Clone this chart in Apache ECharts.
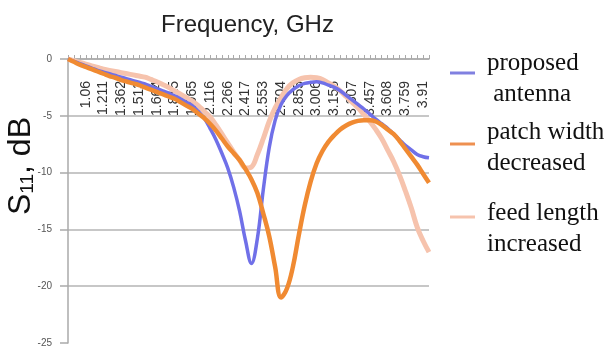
<!DOCTYPE html>
<html>
<head>
<meta charset="utf-8">
<script src="https://cdn.jsdelivr.net/npm/echarts@6/dist/echarts.min.js"></script>
<style>
  html, body { margin: 0; padding: 0; background: #fff; }
  #chart { width: 611px; height: 353px; }
</style>
</head>
<body>
<div id="chart"></div>
<script>
  // tick labels on the frequency axis (GHz)
  const freqLabels = ['1.06', '1.211', '1.362', '1.513', '1.664', '1.815', '1.965', '2.116', '2.266', '2.417',
    '2.553', '2.704', '2.855', '3.006', '3.156', '3.307', '3.457', '3.608', '3.759', '3.91']

  // S11 (dB), 3 samples per labelled step
  const proposed = [0, -0.2, -0.4, -0.6, -0.8, -1.0, -1.15, -1.3, -1.45, -1.6,
    -1.75, -1.9, -2.05, -2.2, -2.4, -2.6, -2.8, -3.0, -3.25, -3.5,
    -3.8, -4.1, -4.6, -5.2, -6.1, -7.1, -8.3, -9.6, -11.3, -13.4,
    -16.0, -18.0, -15.8, -11.5, -7.8, -5.4, -4.0, -3.2, -2.7, -2.35,
    -2.15, -2.05, -2.0, -2.1, -2.3, -2.5, -2.8, -3.2, -3.6, -4.0,
    -4.4, -4.85, -5.3, -5.7, -6.1, -6.6, -7.1, -7.6, -8.0, -8.4,
    -8.6, -8.7]
  const patchWidth = [0, -0.25, -0.5, -0.7, -0.9, -1.1, -1.3, -1.5, -1.65, -1.85,
    -2.0, -2.15, -2.3, -2.5, -2.7, -2.9, -3.1, -3.3, -3.5, -3.8,
    -4.1, -4.4, -4.8, -5.2, -5.7, -6.3, -7.0, -7.7, -8.3, -8.9,
    -9.7, -10.6, -11.8, -13.6, -15.6, -18.3, -21.0, -20.2, -18.3, -15.5,
    -12.9, -10.8, -9.2, -8.1, -7.3, -6.7, -6.2, -5.85, -5.6, -5.45,
    -5.4, -5.4, -5.5, -5.8, -6.2, -6.6, -7.2, -7.9, -8.6, -9.3,
    -10.1, -10.9]
  const feedLength = [0, -0.15, -0.3, -0.45, -0.6, -0.75, -0.9, -1.0, -1.1, -1.2,
    -1.3, -1.4, -1.5, -1.6, -1.8, -2.0, -2.25, -2.5, -2.8, -3.1,
    -3.4, -3.7, -4.1, -4.6, -5.1, -5.8, -6.6, -7.4, -8.2, -8.9,
    -9.6, -9.5, -8.4, -7.0, -5.5, -4.3, -3.4, -2.6, -2.1, -1.8,
    -1.65, -1.6, -1.65, -1.8, -2.1, -2.4, -2.8, -3.3, -3.8, -4.3,
    -4.9, -5.5, -6.2, -7.0, -8.0, -9.0, -10.2, -11.6, -13.1, -14.8,
    -16.0, -17.0]

  const yTicks = [0, -5, -10, -15, -20, -25]

  // categories: labelled frequencies with two sub-steps between them
  const categories = proposed.map((v, i) => {
    const k = (i - 3) / 3
    if (Number.isInteger(k) && k >= 0 && k < freqLabels.length) return freqLabels[k]
    return (1.06 + (i - 3) * 0.0503).toFixed(4)
  })

  const names = ['proposed\n antenna', 'patch width\ndecreased', 'feed length\nincreased']

  // one legend per entry so each can sit where the original does
  const legendBase = (name, top, spacer) => ({
    data: [name],
    left: 450,
    top: top,
    padding: 0,
    itemWidth: 25,
    itemHeight: 3,
    icon: 'rect',
    selectedMode: false,
    formatter: (n) => '{s| }\n' + n.split('\n').map(t => '{a|' + t + '}').join('\n'),
    textStyle: {
      padding: [0, 0, 0, 7],
      rich: {
        s: { fontSize: 2, lineHeight: spacer },
        a: {
          fontFamily: "'Liberation Serif', 'Times New Roman', serif",
          fontSize: 25,
          lineHeight: 31,
          color: '#111'
        }
      }
    }
  })

  const option = {
    backgroundColor: '#fff',
    animation: false,
    title: {
      text: 'Frequency, GHz',
      left: 156,
      top: 8,
      textStyle: {
        fontFamily: "'Liberation Sans', Arial, sans-serif",
        fontSize: 24,
        fontWeight: 'normal',
        color: '#222'
      }
    },
    legend: [
      legendBase(names[0], 41, 11),
      legendBase(names[1], 112, 7),
      legendBase(names[2], 185, 23)
    ],
    grid: { left: 68, top: 59, right: 182, bottom: 10, outerBoundsMode: 'none' },
    xAxis: {
      type: 'category',
      position: 'top',
      data: categories,
      boundaryGap: false,
      axisLine: { lineStyle: { color: '#aaa', width: 1.5 } },
      axisTick: { interval: 0, length: 4, lineStyle: { color: '#aaa' } },
      axisLabel: {
        inside: true,
        interval: (i) => i % 3 === 0 && i >= 3 && i <= 60,
        rotate: 90,
        margin: 22,
        fontSize: 14,
        fontFamily: "'Liberation Sans', Arial, sans-serif",
        color: '#333'
      }
    },
    yAxis: {
      type: 'value',
      min: yTicks[yTicks.length - 1],
      max: yTicks[0],
      interval: 5,
      name: '{a|S}{b|11}{a|, dB}',
      nameLocation: 'middle',
      nameRotate: 90,
      nameGap: 31,
      nameMoveOverlap: false,
      nameTextStyle: {
        padding: [0, 0, 0, 70],
        rich: {
          a: { fontFamily: "'Liberation Sans', Arial, sans-serif", fontSize: 32, color: '#111' },
          b: { fontFamily: "'Liberation Sans', Arial, sans-serif", fontSize: 19, color: '#111', verticalAlign: 'bottom', padding: [12, 0, 0, 0] }
        }
      },
      axisLine: { show: true, lineStyle: { color: '#aaa', width: 1.5 } },
      axisTick: { show: true, length: 8, lineStyle: { color: '#aaa', width: 1.5 } },
      axisLabel: {
        margin: 16,
        fontSize: 10,
        fontFamily: "'Liberation Sans', Arial, sans-serif",
        color: '#555'
      },
      splitLine: { showMinLine: false, lineStyle: { color: '#b4b4b4', width: 1.5 } }
    },
    series: [
      {
        name: names[2],
        type: 'line',
        data: feedLength,
        smooth: 0.4,
        symbol: 'none',
        z: 2,
        lineStyle: { color: '#f6c3ad', width: 5 },
        itemStyle: { color: '#f6c3ad' }
      },
      {
        name: names[0],
        type: 'line',
        data: proposed,
        smooth: 0.4,
        symbol: 'none',
        z: 3,
        lineStyle: { color: '#7070e8', width: 3.5 },
        itemStyle: { color: '#8080e0' }
      },
      {
        name: names[1],
        type: 'line',
        data: patchWidth,
        smooth: 0.4,
        symbol: 'none',
        z: 4,
        lineStyle: { color: '#f08a32', width: 4.5 },
        itemStyle: { color: '#ee9050' }
      }
    ]
  }

  const myChart = echarts.init(document.getElementById('chart'))
  myChart.setOption(option)
</script>
</body>
</html>
